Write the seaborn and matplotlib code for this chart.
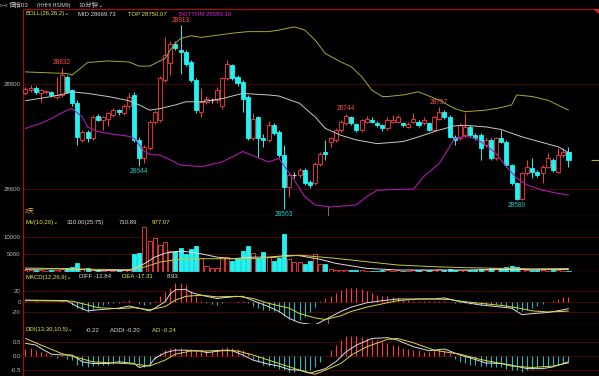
import matplotlib
matplotlib.use("Agg")
import matplotlib.pyplot as plt
from matplotlib.patches import Polygon
import seaborn as sns
import numpy as np

# ---------------- data ----------------
opens = [28783, 28790, 28794, 28783, 28786, 28785, 28777, 28780, 28815, 28789,
         28765, 28694, 28710, 28697, 28740, 28732, 28735, 28742, 28751, 28746,
         28758, 28780, 28694, 28659, 28678, 28729, 28732, 28808, 28841, 28878,
         28866, 28863, 28843, 28808, 28748, 28767, 28770, 28770, 28758, 28812,
         28837, 28815, 28805, 28777, 28697, 28737, 28697, 28694, 28723, 28710,
         28665, 28605, 28627, 28627, 28637, 28614, 28611, 28649, 28672, 28691,
         28694, 28713, 28726, 28737, 28724, 28713, 28729, 28732, 28727, 28722,
         28716, 28729, 28729, 28726, 28719, 28729, 28729, 28726, 28726, 28714,
         28735, 28748, 28738, 28700, 28697, 28704, 28719, 28704, 28704, 28684,
         28694, 28659, 28697, 28691, 28646, 28611, 28582, 28630, 28640, 28633,
         28630, 28643, 28656, 28633, 28665, 28672]
highs = [28796, 28799, 28797, 28792, 28790, 28787, 28815, 28832, 28818, 28792,
         28770, 28714, 28713, 28742, 28744, 28740, 28748, 28755, 28754, 28762,
         28784, 28786, 28700, 28685, 28733, 28752, 28816, 28891, 28883, 28884,
         28913, 28866, 28846, 28812, 28793, 28778, 28775, 28795, 28815, 28847,
         28840, 28818, 28808, 28780, 28745, 28740, 28705, 28730, 28726, 28713,
         28684, 28630, 28632, 28640, 28640, 28618, 28652, 28672, 28694, 28700,
         28717, 28733, 28744, 28740, 28726, 28735, 28740, 28738, 28730, 28725,
         28738, 28741, 28741, 28729, 28729, 28745, 28732, 28738, 28729, 28740,
         28757, 28751, 28741, 28703, 28726, 28745, 28722, 28707, 28707, 28700,
         28697, 28700, 28713, 28694, 28649, 28614, 28633, 28656, 28659, 28637,
         28646, 28669, 28659, 28678, 28678, 28680]
lows = [28780, 28786, 28782, 28767, 28781, 28776, 28773, 28776, 28783, 28758,
        28684, 28690, 28691, 28694, 28730, 28713, 28720, 28738, 28742, 28742,
        28755, 28690, 28644, 28650, 28674, 28725, 28728, 28805, 28818, 28866,
        28820, 28836, 28805, 28746, 28738, 28762, 28765, 28765, 28754, 28808,
        28808, 28798, 28748, 28694, 28694, 28662, 28681, 28690, 28703, 28662,
        28563, 28586, 28622, 28622, 28608, 28603, 28608, 28645, 28656, 28681,
        28690, 28710, 28723, 28723, 28710, 28710, 28726, 28726, 28719, 28712,
        28713, 28726, 28726, 28719, 28716, 28726, 28719, 28723, 28711, 28711,
        28732, 28735, 28697, 28684, 28694, 28700, 28700, 28694, 28656, 28681,
        28656, 28656, 28688, 28643, 28608, 28580, 28580, 28627, 28621, 28624,
        28611, 28640, 28633, 28630, 28662, 28643]
closes = [28792, 28794, 28785, 28789, 28787, 28779, 28780, 28819, 28786, 28764,
          28700, 28710, 28697, 28738, 28733, 28737, 28745, 28751, 28748, 28759,
          28777, 28694, 28659, 28681, 28729, 28748, 28812, 28856, 28878, 28869,
          28863, 28840, 28808, 28751, 28767, 28773, 28770, 28789, 28812, 28840,
          28812, 28802, 28773, 28697, 28735, 28697, 28694, 28723, 28707, 28665,
          28605, 28627, 28627, 28637, 28611, 28608, 28649, 28668, 28667, 28697,
          28713, 28729, 28740, 28726, 28713, 28732, 28735, 28729, 28722, 28716,
          28732, 28733, 28737, 28723, 28724, 28735, 28723, 28732, 28714, 28737,
          28748, 28738, 28700, 28694, 28723, 28719, 28704, 28697, 28678, 28694,
          28659, 28697, 28691, 28646, 28611, 28582, 28630, 28643, 28633, 28627,
          28643, 28659, 28637, 28665, 28672, 28656]
volumes = [600, 500, 700, 500, 400, 600, 500, 900, 1000, 1500,
           2600, 800, 1200, 700, 560, 400, 500, 400, 500, 500,
           700, 5140, 5500, 12800, 8700, 9500, 7500, 8400, 5900, 5890,
           6640, 5050, 6450, 7290, 3830, 1780, 1030, 1220, 4300, 4300,
           3090, 3830, 5890, 7290, 5420, 4020, 5700, 4300, 3180, 3830,
           10660, 3650, 2710, 2710, 2300, 3200, 5000, 2160, 2160, 750,
           600, 600, 500, 450, 450, 500, 400, 350, 400, 450,
           500, 400, 450, 400, 400, 500, 450, 500, 600, 700,
           800, 700, 900, 600, 700, 600, 500, 500, 900, 600,
           1200, 1000, 1200, 1300, 1800, 1500, 1000, 700, 600, 700,
           500, 400, 500, 500, 400, 300]
macd_hist = [1, 0, 1, 0, 0, -1, 0, 1, 0, -6,
             -12, -15, -20, -16, -10, -7, -4, -3, -2, 1,
             4, 0, -4, -6, -4, 2, 10, 18, 26, 34,
             35, 30, 20, 10, 2, -3, -5, -6, -3, -1,
             0, 1, 2, -2, -8, -12, -15, -16, -18, -20,
             -26, -32, -36, -34, -28, -20, -10, 2, 6, 10,
             16, 22, 25, 26, 25, 23, 19, 16, 13, 11,
             10, 8, 7, 4, 3, 2, 2, 1, 1, 2,
             2, 1, -1, -2, -2, -3, -4, -5, -6, -6,
             -6, -5, -7, -9, -12, -16, -18, -16, -12, -8,
             -4, -1, 2, 5, 8, 9]
ddi_vals = [0.25, 0.3, 0.2, 0.15, 0.1, 0.05, -0.05, 0.05, -0.1, -0.15,
            -0.3, -0.35, -0.4, -0.35, -0.3, -0.3, -0.3, -0.28, -0.25, -0.25,
            -0.2, -0.25, -0.35, -0.4, -0.3, -0.1, 0.1, 0.2, 0.28, 0.3,
            0.28, 0.25, 0.25, 0.22, 0.2, 0.2, 0.22, 0.25, 0.3, 0.32,
            0.3, 0.25, 0.2, 0.1, -0.1, -0.2, -0.3, -0.35, -0.4, -0.45,
            -0.5, -0.55, -0.55, -0.5, -0.55, -0.5, -0.4, -0.2, 0.0, 0.2,
            0.4, 0.55, 0.7, 0.72, 0.7, 0.68, 0.65, 0.6, 0.55, 0.5,
            0.45, 0.4, 0.35, 0.3, 0.25, 0.2, 0.2, 0.15, 0.15, 0.2,
            0.25, 0.2, 0.1, -0.1, -0.2, -0.25, -0.3, -0.3, -0.35, -0.35,
            -0.4, -0.4, -0.4, -0.45, -0.5, -0.5, -0.55, -0.5, -0.45, -0.4,
            -0.4, -0.35, -0.3, -0.3, -0.25, -0.22]

boll_top_idx = [0, 8, 9, 11, 12, 16, 20, 22, 24, 25, 27, 28, 29, 30, 32, 34, 37, 40, 43, 47,
                49, 52, 54, 56, 58, 61, 63, 65, 67, 69, 70, 73, 76, 80, 83, 85, 89, 92, 94, 95,
                98, 101, 105]
boll_top = [28824, 28821, 28818, 28834, 28842, 28845, 28843, 28835, 28835, 28840,
            28850, 28866, 28879, 28888, 28893, 28890, 28894, 28898, 28901, 28901,
            28904, 28910, 28904, 28885, 28859, 28843, 28834, 28815, 28789, 28777,
            28777, 28780, 28786, 28770, 28754, 28748, 28751, 28756, 28761, 28780,
            28777, 28770, 28751]
boll_mid_idx = [0, 5, 8, 9, 12, 16, 20, 22, 24, 26, 29, 31, 34, 38, 42, 47, 49, 53, 56, 58,
                61, 64, 68, 73, 76, 80, 83, 85, 89, 92, 96, 100, 103, 105]
boll_mid = [28769, 28777, 28783, 28786, 28783, 28777, 28769, 28761, 28751, 28754,
            28761, 28767, 28767, 28773, 28783, 28780, 28778, 28764, 28738, 28716,
            28703, 28694, 28687, 28691, 28700, 28713, 28721, 28722, 28719, 28714,
            28700, 28689, 28681, 28670]
boll_bot_idx = [0, 3, 5, 8, 9, 11, 12, 14, 17, 20, 21, 23, 24, 26, 28, 30, 34, 38, 42, 47,
                49, 52, 54, 56, 59, 64, 66, 68, 73, 75, 77, 80, 82, 83, 85, 87, 89, 91, 93, 95,
                97, 100, 103, 105]
boll_bot = [28716, 28726, 28735, 28751, 28754, 28738, 28719, 28710, 28705, 28701,
            28697, 28672, 28667, 28665, 28656, 28646, 28643, 28652, 28672, 28652,
            28659, 28617, 28586, 28570, 28566, 28570, 28586, 28598, 28600, 28600,
            28624, 28649, 28681, 28697, 28701, 28697, 28684, 28668, 28643, 28621,
            28608, 28598, 28592, 28589]

mv10_idx = [0, 8, 14, 20, 21, 23, 25, 27, 30, 32, 34, 37, 40, 44, 47, 51, 53, 57, 60, 66,
            72, 85, 92, 98, 105]
mv10 = [750, 935, 470, 470, 935, 2340, 4200, 5300, 5900, 5600, 5140, 4200, 3740, 4200,
        4200, 4700, 4600, 3570, 2440, 1030, 560, 560, 750, 650, 711]
mv20_idx = [0, 8, 14, 20, 23, 26, 29, 34, 39, 43, 49, 53, 60, 66, 72, 79, 85, 92, 98, 105]
mv20 = [1120, 935, 750, 650, 1400, 2800, 3460, 3740, 3740, 3740, 4200, 4750, 3850, 2900,
        1970, 1500, 1220, 1030, 900, 977]

diff_idx = [0, 8, 10, 12, 14, 18, 20, 22, 24, 25, 27, 28, 29, 31, 32, 34, 37, 40, 42, 44,
            47, 49, 51, 53, 56, 58, 61, 63, 66, 69, 72, 76, 79, 81, 84, 88, 92, 94, 96, 98,
            101, 104, 105]
diff_vals = [3, 2, -9, -17, -15, -12, -8, -12, -17, -12, 0, 15, 22, 23, 17, 12, 6, 9, 10, 2,
             -9, -18, -31, -39, -43, -33, -18, -10, -2, 2, 5, 5, 5, 7, 0, -6, -10, -12, -24,
             -22, -20, -15, -12.84]
dea_idx = [0, 9, 12, 14, 18, 21, 24, 27, 29, 31, 34, 37, 41, 44, 47, 51, 53, 56, 58, 61,
           63, 66, 69, 72, 76, 79, 82, 85, 89, 93, 96, 98, 101, 104, 105]
dea_vals = [2, 1, -6, -11, -13, -11, -15, -9, 3, 10, 12, 9, 10, 6, -3, -12, -22, -30, -33,
            -26, -18, -10, -4, 2, 5, 5, 4, 0, -4, -8, -13, -17, -19, -18, -17.31]

addi_idx = [0, 2, 3, 5, 7, 9, 11, 13, 16, 18, 21, 22, 24, 25, 27, 29, 31, 34, 35, 38,
            40, 42, 44, 47, 49, 51, 53, 55, 58, 60, 62, 64, 67, 70, 72, 75, 78, 81, 84, 87,
            89, 92, 94, 97, 100, 102, 105]
addi_vals = [0.45, 0.39, 0.27, 0.07, 0.04, 0.04, -0.2, -0.26, -0.26, -0.2,
             -0.26, -0.4, -0.32, -0.08, 0.12, 0.21, 0.21, 0.18, 0.12, 0.19,
             0.19, 0.04, -0.14, -0.28, -0.35, -0.47, -0.5, -0.6, -0.44, -0.2,
             0.15, 0.39, 0.62, 0.65, 0.56, 0.33, 0.19, 0.25, 0.04, -0.12,
             -0.24, -0.26, -0.32, -0.44, -0.44, -0.38, -0.2]
ad_idx = [0, 3, 7, 10, 13, 17, 21, 24, 27, 29, 32, 35, 39, 41, 44, 47, 50, 53, 56, 58,
          61, 63, 66, 70, 72, 75, 79, 81, 84, 88, 92, 94, 98, 102, 105]
ad_vals = [0.62, 0.39, 0.09, -0.05, -0.2, -0.24, -0.28, -0.35, -0.14, 0.07,
           0.18, 0.18, 0.21, 0.18, 0.04, -0.14, -0.32, -0.49, -0.64, -0.49,
           -0.26, 0.04, 0.33, 0.59, 0.62, 0.47, 0.21, 0.15, 0.07, -0.12,
           -0.26, -0.35, -0.4, -0.35, -0.24]

# extreme labels: (bar index, text, kind)
extreme_labels = [(30, "28913", "high"), (7, "28832", "high"), (62, "28744", "high"),
                  (80, "28757", "high"), (22, "28644", "low"), (50, "28563", "low"),
                  (95, "28580", "low")]

price_ticks = [28600, 28800]
vol_ticks = [5000, 10000]
macd_ticks = [-20, 0, 20]
ddi_ticks = [-0.5, 0.0, 0.5]

# ---------------- style ----------------
sns.set_style("dark")
plt.rcParams['font.family'] = ['Liberation Sans', 'Noto Sans CJK SC', 'DejaVu Sans']
plt.rcParams['axes.unicode_minus'] = False

RED = '#ff3b3b'
CYAN = '#22f2f2'
SEP = '#a01010'
GRID = '#4a0808'
TICK = '#b8b8b8'
YEL = '#e6e64a'
WHITE = '#dcdcdc'
MAG = '#d020d0'

W, H = 599, 376
fig = plt.figure(figsize=(W / 100, H / 100), dpi=100, facecolor='black')


def add_ax(top, bottom):
    return fig.add_axes([23 / W, 1 - bottom / H, (W - 23) / W, (bottom - top) / H])


ax_main = add_ax(9, 216)
ax_vol = add_ax(216, 272)
ax_macd = add_ax(272, 324)
ax_ddi = add_ax(324, 376)

n = len(closes)
XL = (-0.48, 110.9)

for ax in (ax_main, ax_vol, ax_macd, ax_ddi):
    ax.set_facecolor('black')
    ax.set_xlim(*XL)
    ax.set_xticks([])
    ax.spines['right'].set_visible(False)
    for s in ('left', 'top', 'bottom'):
        ax.spines[s].set_color(SEP)
        ax.spines[s].set_linewidth(0.9)
    ax.tick_params(axis='y', length=0, pad=1.6, labelsize=4.4, labelcolor=TICK)
    ax.grid(False)

ax_main.set_ylim(28548.8, 28944.2)
ax_vol.set_ylim(0, 15800)
ax_macd.set_ylim(-41.3, 55)
ax_ddi.set_ylim(-0.70, 1.13)
for ax in (ax_vol, ax_macd, ax_ddi):
    ax.spines['top'].set_visible(False)

ax_main.set_yticks(price_ticks)
ax_main.set_yticklabels([str(v) for v in price_ticks])
ax_vol.set_yticks(vol_ticks)
ax_vol.set_yticklabels([str(v) for v in vol_ticks])
ax_macd.set_yticks(macd_ticks)
ax_macd.set_yticklabels([str(v) for v in macd_ticks])
ax_ddi.set_yticks(ddi_ticks)
ax_ddi.set_yticklabels(["%.1f" % v for v in ddi_ticks])

for ax, ticks in ((ax_main, price_ticks), (ax_vol, vol_ticks), (ax_macd, macd_ticks), (ax_ddi, ddi_ticks)):
    for t in ticks:
        ax.axhline(t, color=GRID, lw=0.7, zorder=0)

# ---------------- candles ----------------
up = [c >= o for o, c in zip(opens, closes)]
W_BAR = 0.78
for i in range(n):
    o, h, l, c = opens[i], highs[i], lows[i], closes[i]
    if o == c:
        col = '#c8c8c8'
    else:
        col = RED if up[i] else CYAN
    ax_main.vlines(i, l, h, color=col, lw=0.7, zorder=2)
    if o == c:
        ax_main.hlines(o, i - W_BAR / 2, i + W_BAR / 2, color=col, lw=0.8, zorder=3)
    else:
        ax_main.bar(i, abs(c - o), bottom=min(o, c), width=W_BAR,
                    facecolor='black' if up[i] else CYAN, edgecolor=col, lw=0.6, zorder=3)

sns.lineplot(x=boll_top_idx, y=boll_top, ax=ax_main, color='#a8a830', lw=0.7, legend=False, zorder=4)
sns.lineplot(x=boll_mid_idx, y=boll_mid, ax=ax_main, color='#c8c8c8', lw=0.7, legend=False, zorder=4)
sns.lineplot(x=boll_bot_idx, y=boll_bot, ax=ax_main, color='#b018b0', lw=0.8, legend=False, zorder=4)
# last-price mark at the right edge
ax_main.hlines(closes[-1], 109.3, 111, color='#b0b030', lw=0.8)

for idx, txt, kind in extreme_labels:
    if kind == 'high':
        ax_main.annotate(txt, (idx, highs[idx]), xytext=(0, 1.5), textcoords='offset pixels',
                         ha='center', va='bottom', fontsize=4.8, color='#ff4a4a')
    else:
        ax_main.annotate(txt, (idx, lows[idx]), xytext=(0, -2), textcoords='offset pixels',
                         ha='center', va='top', fontsize=4.8, color='#20c8c8')

# ---------------- volume ----------------
for i in range(n):
    col = RED if up[i] else CYAN
    ax_vol.bar(i, volumes[i], width=W_BAR, facecolor='black' if up[i] else CYAN,
               edgecolor=col, lw=0.6, zorder=2)
sns.lineplot(x=mv10_idx, y=mv10, ax=ax_vol, color=WHITE, lw=0.7, legend=False, zorder=4)
sns.lineplot(x=mv20_idx, y=mv20, ax=ax_vol, color='#c8c83a', lw=0.7, legend=False, zorder=4)

# ---------------- MACD ----------------
for i in range(n):
    v = macd_hist[i]
    ax_macd.vlines(i, 0, v, color=RED if v >= 0 else '#1fbfbf', lw=0.8, zorder=2)
sns.lineplot(x=diff_idx, y=diff_vals, ax=ax_macd, color=WHITE, lw=0.7, legend=False, zorder=4)
sns.lineplot(x=dea_idx, y=dea_vals, ax=ax_macd, color='#d8d840', lw=0.7, legend=False, zorder=4)

# ---------------- DDI ----------------
for i in range(n):
    v = ddi_vals[i]
    ax_ddi.vlines(i, 0, v, color=RED if v >= 0 else '#1fbfbf', lw=0.8, zorder=2)
sns.lineplot(x=addi_idx, y=addi_vals, ax=ax_ddi, color=WHITE, lw=0.7, legend=False, zorder=4)
sns.lineplot(x=ad_idx, y=ad_vals, ax=ax_ddi, color='#d8d840', lw=0.7, legend=False, zorder=4)

for ax in (ax_main, ax_vol, ax_macd, ax_ddi):
    ax.set_xlabel('')
    ax.set_ylabel('')

# day divider ticks
ax_main.vlines(58.5, 28548.8, 28568, color='#888888', lw=0.6)
ax_macd.vlines(58.5, -41.3, -31, color='#888888', lw=0.6)

# small red corner mark, top right
fig.patches.append(Polygon([[593 / W, 1 - 9 / H], [599 / W, 1 - 9 / H], [599 / W, 1 - 14 / H]],
                           closed=True, transform=fig.transFigure, facecolor='#e02020',
                           edgecolor='none'))


# ---------------- header texts ----------------
def ftext(px, py, s, color, size=4.3):
    fig.text(px / W, 1 - py / H, s, color=color, fontsize=size, va='center', ha='left')


ftext(0, 5, "⊳⊲", '#b0b0b0', 3.6)
ftext(9, 5, "恒指03", '#d0d0d0', 4.6)
ftext(37, 5, "(HHHI HSIM9)", '#d0d0d0', 3.8)
ftext(78, 5, "10分钟⌄", '#d0d0d0', 4.6)

ftext(25, 14, "BOLL(26,26,2)⌄", YEL)
ftext(78, 14, "MID 28669.73", WHITE)
ftext(128, 14, "TOP 28750.07", YEL)
ftext(179, 14, "BOTTOM 28589.39", MAG)

ftext(25, 211, "2天", '#e0b040', 4.6)

ftext(25, 222, "MV(10,20)⌄", YEL)
ftext(67, 222, "310.00(25:75)", WHITE)
ftext(119, 222, "710.89", WHITE)
ftext(152, 222, "977.07", YEL)

ftext(25, 277, "MACD(12,26,9)⌄", YEL)
ftext(79, 277, "DIFF -12.84", WHITE)
ftext(122, 277, "DEA -17.31", YEL)
ftext(167, 277, "8.93", WHITE)

ftext(25, 330, "DDI(13,30,10,5)⌄", YEL)
ftext(86, 330, "-0.22", WHITE)
ftext(110, 330, "ADDI -0.20", WHITE)
ftext(152, 330, "AD -0.24", YEL)

fig.savefig("out.png", dpi=100, facecolor='black')
